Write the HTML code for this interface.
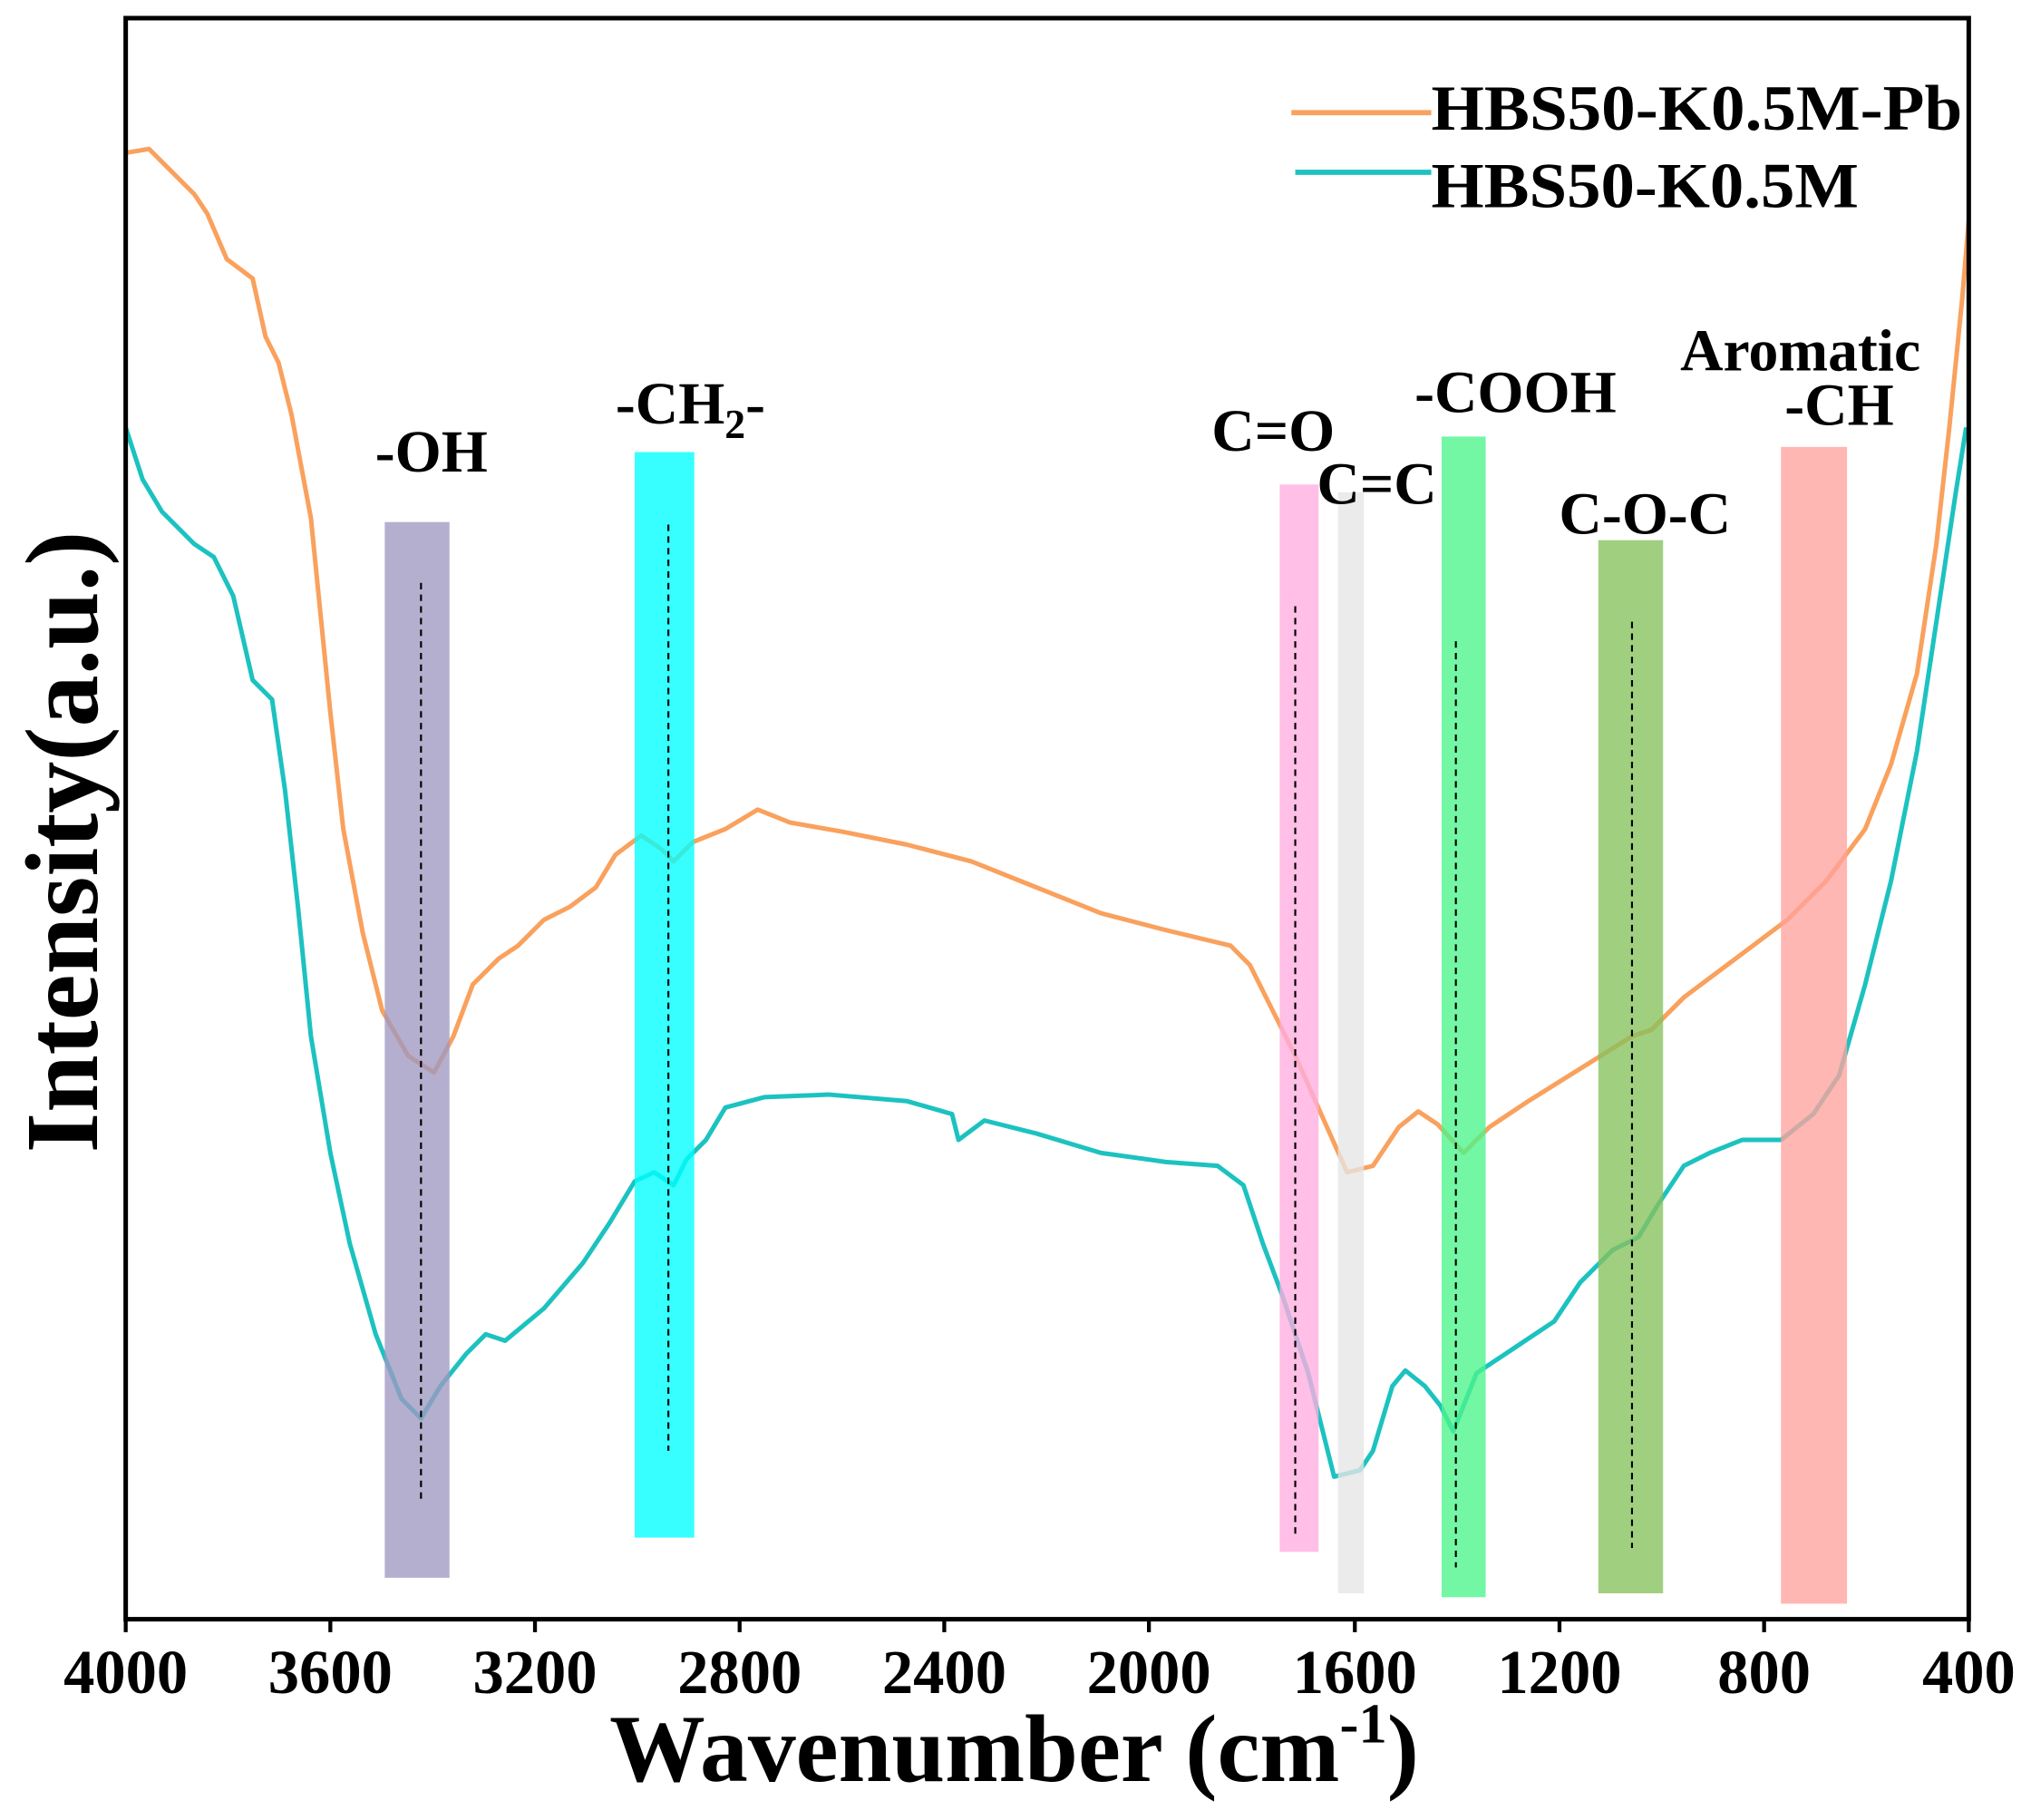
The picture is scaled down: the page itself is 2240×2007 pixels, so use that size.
<!DOCTYPE html>
<html><head><meta charset="utf-8"><style>html,body{margin:0;padding:0;background:#fff}svg{display:block}</style></head>
<body>
<svg width="2240" height="2007" viewBox="0 0 1568 1405" xmlns="http://www.w3.org/2000/svg" font-family="'Liberation Serif', serif" font-weight="bold">
<rect width="1568" height="1405" fill="#fff"/>
<polyline fill="none" stroke="#f9a15d" stroke-width="3.5" stroke-linejoin="round" points="97,118 115,115 130,130 150,150 160,165 175,200 195,215 205,260 215,280 225,320 240,400 255,550 265,640 280,720 295,780 315,815 335,828 350,800 365,760 385,740 400,730 420,710 440,700 460,685 475,660 495,645 510,655 520,665 535,650 560,640 585,625 610,635 650,642 700,652 750,665 800,685 850,705 900,718 950,730 965,745 980,775 1000,815 1020,860 1040,905 1060,900 1080,870 1095,858 1110,868 1130,890 1150,870 1180,850 1220,825 1260,800 1275,795 1300,770 1340,740 1380,710 1410,680 1440,640 1460,590 1480,520 1495,420 1505,330 1515,230 1520,170"/>
<polyline fill="none" stroke="#1cc2c0" stroke-width="3.5" stroke-linejoin="round" points="97,330 110,370 125,395 150,420 165,430 180,460 195,525 210,540 220,610 230,700 240,800 255,890 270,960 290,1030 310,1080 325,1095 340,1070 360,1045 375,1030 390,1035 420,1010 450,975 470,945 490,912 505,905 520,915 530,895 545,880 560,855 590,847 640,845 700,850 735,860 740,880 760,865 800,875 850,890 900,897 940,900 960,915 975,960 990,1000 1010,1060 1030,1140 1050,1135 1060,1120 1075,1070 1085,1058 1100,1070 1112,1085 1122,1105 1140,1060 1170,1040 1200,1020 1220,990 1245,965 1265,955 1280,930 1300,900 1320,890 1345,880 1375,880 1400,860 1420,830 1440,760 1460,680 1480,580 1495,480 1510,380 1518,330"/>
<g opacity="0.78">
<rect x="297" y="403" width="50" height="815" fill="#9f98c2"/>
<rect x="490" y="349" width="46" height="838" fill="#00ffff"/>
<rect x="988" y="374" width="30" height="824" fill="#ffaee0"/>
<rect x="1033" y="380" width="20" height="850" fill="#e6e6e6"/>
<rect x="1113" y="337" width="34" height="896" fill="#4cf58a"/>
<rect x="1234" y="417" width="50" height="813" fill="#86c15c"/>
<rect x="1375" y="345" width="51" height="893" fill="#ffa39e"/>
</g>
<g stroke="#000" stroke-width="1.5" stroke-dasharray="5,4">
<line x1="325" y1="450" x2="325" y2="1160"/>
<line x1="516" y1="405" x2="516" y2="1120"/>
<line x1="1000" y1="468" x2="1000" y2="1185"/>
<line x1="1124" y1="495" x2="1124" y2="1210"/>
<line x1="1260" y1="480" x2="1260" y2="1195"/>
</g>
<rect x="97" y="14" width="1423" height="1236" fill="none" stroke="#000" stroke-width="3.5"/>
<g stroke="#000" stroke-width="3">
<line x1="97" y1="1250" x2="97" y2="1260"/><line x1="255" y1="1250" x2="255" y2="1260"/><line x1="413" y1="1250" x2="413" y2="1260"/><line x1="571" y1="1250" x2="571" y2="1260"/><line x1="729" y1="1250" x2="729" y2="1260"/><line x1="887" y1="1250" x2="887" y2="1260"/><line x1="1046" y1="1250" x2="1046" y2="1260"/><line x1="1204" y1="1250" x2="1204" y2="1260"/><line x1="1362" y1="1250" x2="1362" y2="1260"/><line x1="1520" y1="1250" x2="1520" y2="1260"/>
</g>
<g font-size="48" text-anchor="middle">
<text x="97" y="1307">4000</text><text x="255" y="1307">3600</text><text x="413" y="1307">3200</text><text x="571" y="1307">2800</text><text x="729" y="1307">2400</text><text x="887" y="1307">2000</text><text x="1046" y="1307">1600</text><text x="1204" y="1307">1200</text><text x="1362" y="1307">800</text><text x="1520" y="1307">400</text>
</g>
<text x="783" y="1375" font-size="74" text-anchor="middle">Wavenumber (cm<tspan dy="-30" font-size="44">-1</tspan><tspan dy="30">)</tspan></text>
<text transform="translate(75,650) rotate(-90)" font-size="80" text-anchor="middle">Intensity(a.u.)</text>
<g font-size="46" text-anchor="middle">
<text x="333" y="364">-OH</text>
<text x="533" y="327">-CH<tspan font-size="32" dy="11">2</tspan><tspan dy="-11">-</tspan></text>
<text x="983" y="348">C=O</text>
<text x="1063" y="389">C=C</text>
<text x="1170" y="318">-COOH</text>
<text x="1270" y="412">C-O-C</text>
<text x="1390" y="286">Aromatic</text>
<text x="1420" y="328">-CH</text>
</g>
<line x1="997" y1="87" x2="1105" y2="87" stroke="#f9a15d" stroke-width="4"/>
<line x1="1000" y1="133" x2="1105" y2="133" stroke="#1cc2c0" stroke-width="4"/>
<text x="1105" y="100" font-size="50" textLength="410" lengthAdjust="spacingAndGlyphs">HBS50-K0.5M-Pb</text>
<text x="1105" y="160" font-size="50" textLength="330" lengthAdjust="spacingAndGlyphs">HBS50-K0.5M</text>
</svg>
</body></html>
